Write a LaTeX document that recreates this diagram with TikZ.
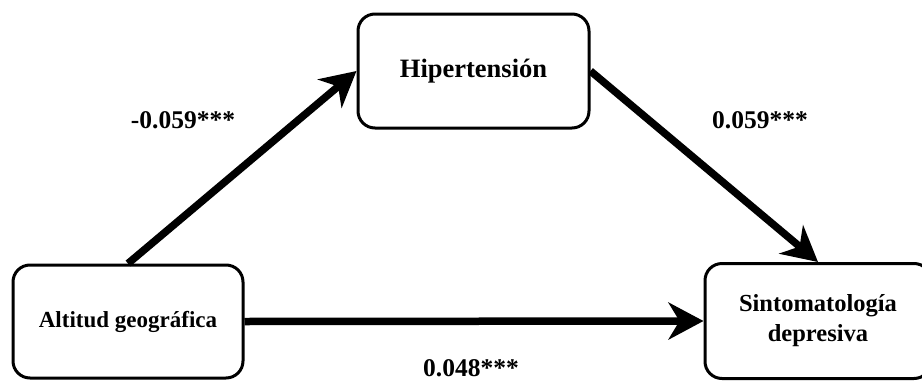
\documentclass[tikz,border=0pt]{standalone}
\usepackage{fontspec}
\setmainfont{Liberation Serif}
\usetikzlibrary{arrows.meta, positioning}

\begin{document}
\begin{tikzpicture}[
    x=1pt, y=-1pt,
    >={Stealth[length=35pt, width=37pt, inset=11pt]},
    var/.style={draw, line width=3pt, rounded corners=17pt, align=center,
                font=\bfseries},
    conn/.style={->, line width=7.5pt},
    coef/.style={font=\fontsize{25.5}{30}\selectfont\bfseries},
]
\useasboundingbox (0,0) rectangle (922,381);

% ---- variables ----
\node[var, minimum width=230pt, minimum height=113pt,
      font=\fontsize{23}{28}\selectfont\bfseries]
  (alt) at (128,321.5) {Altitud geográfica};
\node[var, minimum width=231pt, minimum height=114pt,
      font=\fontsize{26.5}{31}\selectfont\bfseries]
  (hip) at (473.5,71) {Hipertensión};
\node[var, minimum width=226pt, minimum height=115pt,
      font=\fontsize{24.5}{30}\selectfont\bfseries]
  (sint) at (818,321) {Sintomatología\\depresiva};

% ---- paths ----
\draw[conn] (alt.north) -- (hip.west);
\draw[conn] (hip.east) -- (sint.north);
\draw[conn] (alt.east) -- (sint.west);

% ---- coefficients ----
\node[coef] (a) at (183,120) {-0.059***};
\node[coef] (b) at (760,120) {0.059***};
\node[coef] (c) at (471,368) {0.048***};

\end{tikzpicture}
\end{document}
